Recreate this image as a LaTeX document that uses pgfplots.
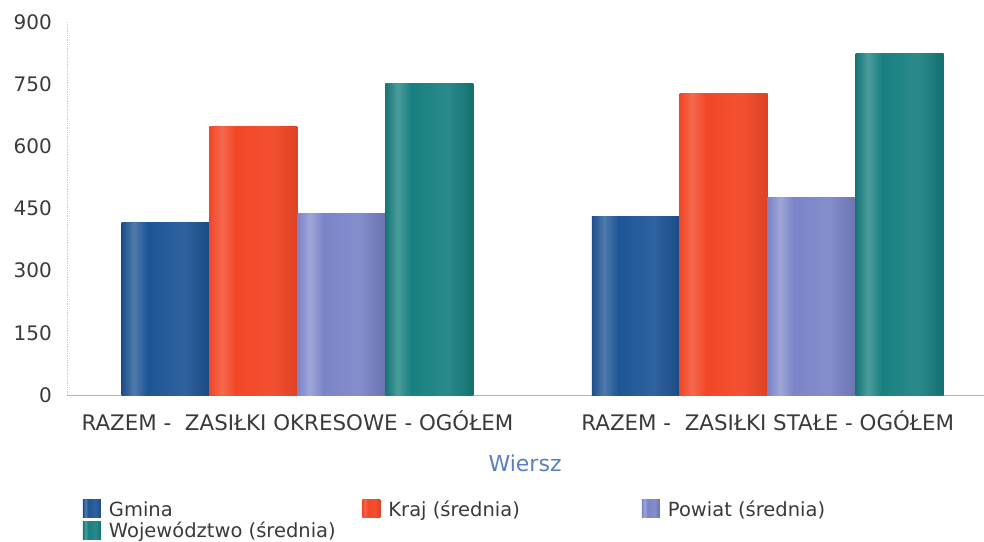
\documentclass[border=0pt]{standalone}
\usepackage{pgfplots}
\pgfplotsset{compat=1.18}
\usepackage{fontspec}
\setmainfont{DejaVu Sans}
\definecolor{gm}{HTML}{1D5596}
\definecolor{kr}{HTML}{F24727}
\definecolor{pw}{HTML}{7A84C8}
\definecolor{wo}{HTML}{188080}
\definecolor{txt}{HTML}{3A3A3A}
\definecolor{lab}{HTML}{5A7FC0}
\definecolor{axl}{HTML}{A8B6CC}
\pgfdeclarehorizontalshading{gmsh}{100bp}{color(0bp)=(gm); color(25bp)=(gm!92!black); color(32bp)=(gm!78!white); color(40bp)=(gm); color(60bp)=(gm!92!white); color(75bp)=(gm!88!black); color(100bp)=(gm!88!black)}
\pgfdeclarehorizontalshading{krsh}{100bp}{color(0bp)=(kr); color(25bp)=(kr); color(32bp)=(kr!82!white); color(40bp)=(kr); color(60bp)=(kr!95!white); color(75bp)=(kr!92!black); color(100bp)=(kr!92!black)}
\pgfdeclarehorizontalshading{pwsh}{100bp}{color(0bp)=(pw); color(25bp)=(pw); color(32bp)=(pw!72!white); color(40bp)=(pw); color(60bp)=(pw!92!white); color(75bp)=(pw!88!black); color(100bp)=(pw!88!black)}
\pgfdeclarehorizontalshading{wosh}{100bp}{color(0bp)=(wo); color(25bp)=(wo!92!black); color(32bp)=(wo!78!white); color(40bp)=(wo); color(60bp)=(wo!92!white); color(75bp)=(wo!88!black); color(100bp)=(wo!88!black)}
\begin{document}
\begin{tikzpicture}
\begin{axis}[
  name=ax,
  scale only axis,
  width=917bp, height=373bp,
  ybar=0pt,
  bar width=0.187,
  xmin=-0.49, xmax=1.46,
  ymin=0, ymax=900,
  ytick={0,150,...,900},
  xtick={0,1},
  xticklabels={RAZEM -\ \ ZASIŁKI OKRESOWE - OGÓŁEM, RAZEM -\ \ ZASIŁKI STAŁE - OGÓŁEM},
  axis x line*=bottom,
  axis y line*=left,
  x axis line style={draw=axl, line width=1bp, -},
  y axis line style={draw=axl!70!white, line width=0.8bp, densely dotted, -},
  major tick length=0pt,
  /pgf/number format/assume math mode=true,
  yticklabel style={font=\fontsize{20bp}{24bp}\selectfont, text=txt, anchor=east, inner sep=0pt, xshift=-15bp},
  xticklabel style={font=\fontsize{21.4bp}{24bp}\selectfont, text=txt, anchor=north, inner sep=0pt, text height=15.5bp, yshift=-20bp},
  xlabel={Wiersz},
  xlabel style={font=\fontsize{22bp}{24bp}\selectfont, text=lab, at={(axis description cs:0.4995,-0.161)}, anchor=north, inner sep=0pt, text height=16bp},
  legend columns=3,
  legend style={at={(axis description cs:0.0174,-0.2815)}, anchor=north west, draw=none, fill=none, inner sep=0pt, outer sep=0pt,
    font=\fontsize{19.5bp}{22bp}\selectfont, text=txt,
    /tikz/every odd column/.append style={column sep=8bp},
    /tikz/every even column/.append style={column sep=0bp},
    nodes={inner sep=0pt, outer sep=0pt, text height=16bp, text depth=5bp},
    row sep=0bp},
  legend image code/.code={\path[#1] (0bp,-7.2bp) rectangle (18bp,10.8bp);},
  legend cell align=left,
  clip=false,
]
\addplot[draw=none, shading=gmsh, bar shift=-0.2805] coordinates {(0,417)};
\addplot[draw=none, shading=krsh, bar shift=-0.0935] coordinates {(0,648)};
\addplot[draw=none, shading=pwsh, bar shift=0.0935] coordinates {(0,438)};
\addplot[draw=none, shading=wosh, bar shift=0.2805] coordinates {(0,752)};
\addplot[draw=none, shading=gmsh, bar shift=-0.2805, forget plot] coordinates {(1,431)};
\addplot[draw=none, shading=krsh, bar shift=-0.0935, forget plot] coordinates {(1,728)};
\addplot[draw=none, shading=pwsh, bar shift=0.0935, forget plot] coordinates {(1,477)};
\addplot[draw=none, shading=wosh, bar shift=0.2805, forget plot] coordinates {(1,825)};
\legend{\makebox[253.5bp][l]{Gmina}, \makebox[253.5bp][l]{Kraj (średnia)}, \makebox[253.5bp][l]{Powiat (średnia)}, \makebox[253.5bp][l]{Województwo (średnia)}}
\end{axis}
\pgfresetboundingbox
\path ([xshift=-67bp,yshift=-147bp]ax.south west) rectangle ([xshift=917bp,yshift=395bp]ax.south west);
\end{tikzpicture}
\end{document}
